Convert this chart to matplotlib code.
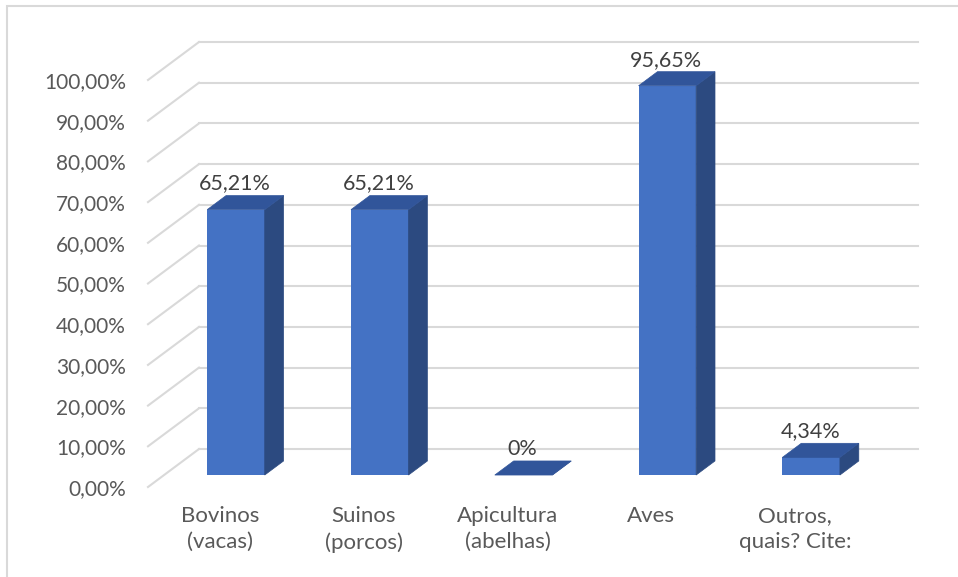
import numpy as np
import matplotlib
matplotlib.use('Agg')
import matplotlib.pyplot as plt
from matplotlib.patches import Polygon, Rectangle
from matplotlib.transforms import ScaledTranslation

categories = ['Bovinos\n(vacas)', 'Suinos\n(porcos)', 'Apicultura\n(abelhas)', 'Aves', 'Outros,\nquais? Cite:']
values = [65.21, 65.21, 0.0, 95.65, 4.34]
value_labels = ['65,21%', '65,21%', '0%', '95,65%', '4,34%']
yticks = list(range(0, 101, 10))
ytick_labels = ['%d,00%%' % t for t in yticks]

plt.rcParams['font.family'] = ['Lato', 'DejaVu Sans']

W, H = 958, 577
DX, DY = 51, 38          # depth offset of the back wall, pixels
d0, d1 = 0.315, 0.685    # bar depth range
bw = 0.40                # bar width in category units

front_c = '#4472c4'
side_c = '#2c4a80'
top_c = '#31559a'
grid_c = '#d9d9d9'

fig = plt.figure(figsize=(W / 100, H / 100), dpi=100)
fig.patches.append(Rectangle((7 / W, -0.1), 1.2, 1.1 - 6 / H, transform=fig.transFigure,
                             fill=False, edgecolor=grid_c, linewidth=1.5))
ax = fig.add_axes([148 / W, 90 / H, 719 / W, 407 / H])
ax.set_xlim(-0.5, len(categories) - 0.5)
ax.set_ylim(0, 100)
for s in ax.spines.values():
    s.set_visible(False)

def depth(d):
    return ax.transData + ScaledTranslation(d * DX / 100, d * DY / 100, fig.dpi_scale_trans)

def to_data(x, y, d):
    px, py = ax.transData.transform((x, y))
    return ax.transData.inverted().transform((px + d * DX, py + d * DY))

# back wall gridlines and their diagonals on the left side wall
x0, x1 = ax.get_xlim()
for t in yticks:
    ax.plot([x0, x1], [t, t], color=grid_c, lw=1.5, transform=depth(1), clip_on=False, zorder=1)
    p, q = to_data(x0, t, 0), to_data(x0, t, 1)
    ax.plot([p[0], q[0]], [p[1], q[1]], color=grid_c, lw=1.5, clip_on=False, zorder=1)

xs = np.arange(len(categories))
ax.bar(xs, values, width=bw, color=front_c, transform=depth(d0), clip_on=False, zorder=3)
for x, v, lab in zip(xs, values, value_labels):
    r = x + bw / 2
    l = x - bw / 2
    side = [to_data(r, 0, d0), to_data(r, 0, d1), to_data(r, v, d1), to_data(r, v, d0)]
    top = [to_data(l, v, d0), to_data(r, v, d0), to_data(r, v, d1), to_data(l, v, d1)]
    ax.add_patch(Polygon(side, closed=True, facecolor=side_c, edgecolor=side_c, lw=0.5,
                         clip_on=False, zorder=3))
    ax.add_patch(Polygon(top, closed=True, facecolor=top_c, edgecolor=top_c, lw=0.5,
                         clip_on=False, zorder=3))
    fx = to_data(x, v, d0)[0]
    ty = to_data(x, v, d1)[1]
    ax.annotate(lab, (fx, ty), xytext=(-1, 12), textcoords='offset pixels',
                ha='center', va='center', fontsize=15.5, color='#404040', zorder=5,
                annotation_clip=False)

ax.set_yticks(yticks)
ax.set_yticklabels(ytick_labels, fontsize=15, color='#595959')
ax.set_xticks(xs)
ax.set_xticklabels(categories, fontsize=16, color='#595959', linespacing=1.35)
ax.tick_params(axis='y', length=0, pad=16)
ax.tick_params(axis='x', length=0, pad=14)

fig.savefig('out.png', dpi=100)
